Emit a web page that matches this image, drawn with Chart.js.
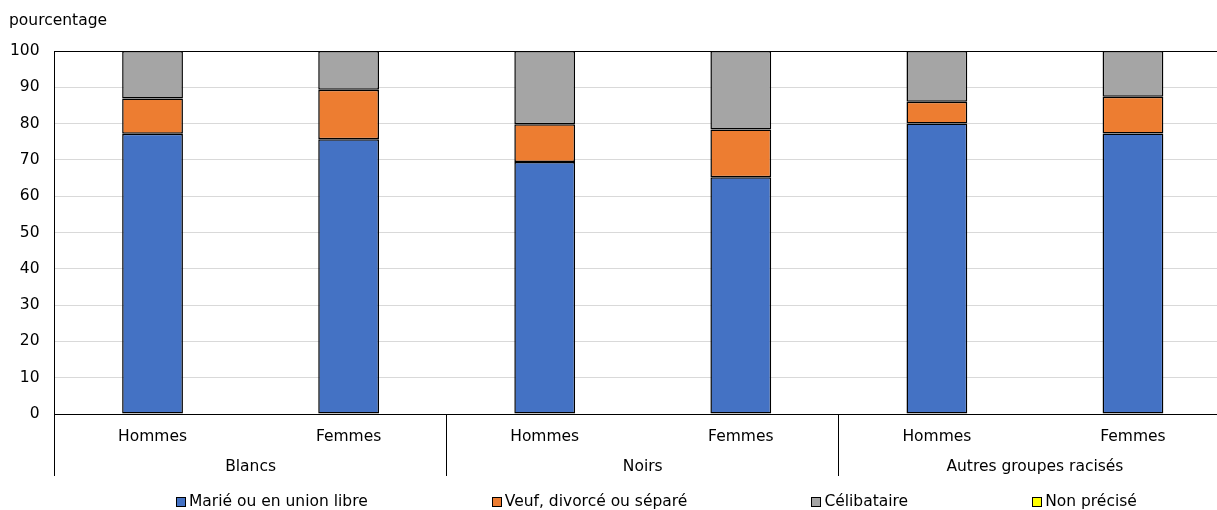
<!DOCTYPE html>
<html lang="fr">
<head>
<meta charset="utf-8">
<title>pourcentage</title>
<script src="https://cdn.jsdelivr.net/npm/chart.js@4"></script>
<style>
  html, body { margin: 0; padding: 0; overflow: hidden; background: #fff; }
  #wrap { position: relative; width: 1231px; height: 510px; }
  #legend {
    position: absolute; left: 176px; top: 492px;
    display: flex; gap: 124px;
    font: 15.5px/19px "DejaVu Sans", sans-serif; color: #000; white-space: nowrap;
  }
  .item { display: flex; align-items: center; }
  .box { width: 8px; height: 8px; border: 1px solid #000; margin-right: 3px; }
</style>
</head>
<body>
<div id="wrap">
  <canvas id="chart"></canvas>
  <div id="legend"></div>
</div>
<script>
// categories
const groups = ['Blancs', 'Noirs', 'Autres groupes racisés'];
const sexes = ['Hommes', 'Femmes', 'Hommes', 'Femmes', 'Hommes', 'Femmes'];

// series (pourcentage)
const marie = [77.2, 75.7, 69.4, 65.2, 80.0, 77.3];
const veuf = [9.7, 13.6, 10.4, 13.2, 6.0, 10.1];
const celibataire = [13.1, 10.7, 20.2, 21.6, 14.0, 12.6];
const nonPrecise = [0, 0, 0, 0, 0, 0];

// y axis ticks
const yMin = 0;
const yMax = 100;
const yStep = 10;

const FONT = { family: '"DejaVu Sans", sans-serif', size: 15.5 };

const series = [
  { label: 'Marié ou en union libre', data: marie, color: '#4472C4' },
  { label: 'Veuf, divorcé ou séparé', data: veuf, color: '#ED7D31' },
  { label: 'Célibataire', data: celibataire, color: '#A5A5A5' },
  { label: 'Non précisé', data: nonPrecise, color: '#FFFF00' }
];

// lines between the groups, under the axis
const groupLines = {
  id: 'groupLines',
  afterDraw(chart) {
    const x = chart.scales.x;
    const x2 = chart.scales.x2;
    const ctx = chart.ctx;
    ctx.save();
    ctx.strokeStyle = '#000';
    ctx.lineWidth = 1;
    for (let i = 0; i <= sexes.length; i += 2) {
      const px = Math.round(x.getPixelForValue(i - 0.5) - 0.5) + 0.5;
      ctx.beginPath();
      ctx.moveTo(px, x.top);
      ctx.lineTo(px, x2.bottom);
      ctx.stroke();
    }
    ctx.restore();
  }
};

const chart = new Chart(document.getElementById('chart'), {
  type: 'bar',
  data: {
    labels: sexes,
    datasets: series.map(s => ({
      label: s.label,
      data: s.data,
      backgroundColor: s.color,
      borderColor: '#000',
      borderWidth: 1.5,
      borderSkipped: false,
      inflateAmount: 0,
      categoryPercentage: 1,
      barPercentage: 0.31
    }))
  },
  options: {
    responsive: true,
    maintainAspectRatio: false,
    animation: false,
    layout: { padding: { left: 9, right: 0, top: 0, bottom: 34 } },
    plugins: {
      legend: { display: false },
      title: {
        display: true,
        text: 'pourcentage',
        align: 'start',
        color: '#000',
        font: { ...FONT, weight: 'normal' },
        padding: { top: 11.5, bottom: 20.9 }
      }
    },
    scales: {
      x: {
        stacked: true,
        grid: { display: false, drawTicks: false },
        border: { color: '#000' },
        ticks: { color: '#000', font: FONT, padding: 13.4 },
        afterFit(s) { s.height = 32; }
      },
      x2: {
        type: 'category',
        labels: groups,
        position: 'bottom',
        weight: 1,
        offset: true,
        grid: { display: false, drawTicks: false },
        border: { display: false },
        ticks: { color: '#000', font: FONT, padding: 11.4 },
        afterFit(s) { s.height = 30; }
      },
      y: {
        stacked: true,
        min: yMin,
        max: yMax,
        ticks: { stepSize: yStep, color: '#000', font: FONT, padding: 15 },
        grid: {
          drawTicks: false,
          color: c => (c.tick && (c.tick.value === yMax || c.tick.value === yMin)) ? '#000' : '#d9d9d9'
        },
        border: { color: '#000' },
        afterFit(s) { s.width = 45.5; }
      }
    }
  },
  plugins: [groupLines]
});

// legend
const legend = document.getElementById('legend');
chart.data.datasets.forEach(ds => {
  const item = document.createElement('span');
  item.className = 'item';
  const box = document.createElement('span');
  box.className = 'box';
  box.style.background = ds.backgroundColor;
  item.appendChild(box);
  item.appendChild(document.createTextNode(ds.label));
  legend.appendChild(item);
});
</script>
</body>
</html>
